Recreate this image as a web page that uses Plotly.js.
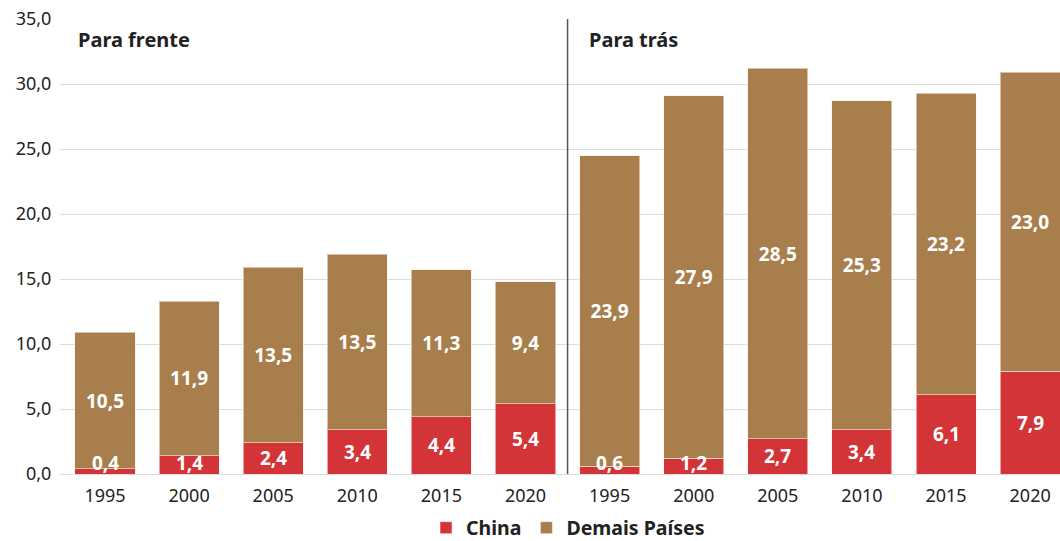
<!DOCTYPE html>
<html>
<head>
<meta charset="utf-8">
<script src="https://cdn.plot.ly/plotly-3.0.1.min.js"></script>
<style>html,body{margin:0;padding:0;background:#fff;}#chart{width:1060px;height:541px;}</style>
</head>
<body>
<div id="chart"></div>
<script>
const years = ["1995","2000","2005","2010","2015","2020","1995","2000","2005","2010","2015","2020"];
const china = [0.4,1.4,2.4,3.4,4.4,5.4,0.6,1.2,2.7,3.4,6.1,7.9];
const demais = [10.5,11.9,13.5,13.5,11.3,9.4,23.9,27.9,28.5,25.3,23.2,23.0];
const groupLabels = ["Para frente","Para trás"];
const yTicks = [0,5,10,15,20,25,30,35];

const xs = years.map((_, i) => i);
const FONT = "Noto Sans, Open Sans, sans-serif";
const fmt = v => v.toFixed(1).replace('.', ',');

const traces = [
  {type: 'bar', name: 'China', x: xs, y: china, hoverinfo: 'skip',
   marker: {color: '#d23437', line: {color: 'rgba(255,235,225,0.6)', width: 1}}},
  {type: 'bar', name: 'Demais Países', x: xs, y: demais, hoverinfo: 'skip',
   textposition: 'inside', insidetextanchor: 'middle', constraintext: 'none',
   texttemplate: '%{y:.1f}', cliponaxis: false,
   textfont: {family: FONT, size: 19, color: '#ffffff', weight: 700},
   marker: {color: '#a87f4c', line: {color: 'rgba(255,235,225,0.6)', width: 1}}}
];

// China labels: centred in segment, kept clear of the baseline for thin segments
const chinaLabels = china.map((v, i) => ({
  xref: 'x', yref: 'y', x: xs[i], y: Math.max(v / 2, 0.85), text: fmt(v),
  showarrow: false, xanchor: 'center', yanchor: 'middle',
  font: {family: FONT, size: 19, color: '#ffffff', weight: 700}
}));

const layout = {
  width: 1060, height: 541,
  margin: {l: 60, r: 0, t: 19, b: 67},
  barmode: 'stack', bargap: 0.286,
  separators: ',.',
  paper_bgcolor: '#fff', plot_bgcolor: '#fff',
  font: {family: FONT, size: 18, color: '#222'},
  xaxis: {range: [-0.535, 11.355], tickvals: xs, ticktext: years, showgrid: false,
    zeroline: false, showline: false, ticks: 'outside', ticklen: 5, tickcolor: 'rgba(0,0,0,0)',
    tickfont: {size: 18, color: '#222'}, automargin: false},
  yaxis: {range: [0, 35], tickvals: yTicks, tickformat: '.1f', showgrid: true,
    gridcolor: '#dddddd', gridwidth: 1, zeroline: true, zerolinecolor: '#dddddd',
    ticks: 'outside', ticklen: 4, tickcolor: 'rgba(0,0,0,0)',
    tickfont: {size: 18, color: '#222'}, automargin: false},
  showlegend: true,
  legend: {orientation: 'h', xref: 'paper', x: 0.508, xanchor: 'center',
    yref: 'container', y: 0.024, yanchor: 'middle',
    font: {size: 19.5, color: '#222', weight: 700}, traceorder: 'normal'},
  shapes: [{type: 'line', xref: 'x', yref: 'y', x0: 5.5, x1: 5.5, y0: 0, y1: 35,
    line: {color: '#555', width: 1.5}}],
  annotations: [
    {xref: 'x', yref: 'y', x: -0.34, y: 33.4, xanchor: 'left', yanchor: 'middle',
     text: groupLabels[0], showarrow: false, font: {size: 20, color: '#222', weight: 700}},
    {xref: 'x', yref: 'y', x: 5.73, y: 33.4, xanchor: 'left', yanchor: 'middle',
     text: groupLabels[1], showarrow: false, font: {size: 20, color: '#222', weight: 700}}
  ].concat(chinaLabels)
};
Plotly.newPlot('chart', traces, layout, {displayModeBar: false, staticPlot: true});
</script>
</body>
</html>
